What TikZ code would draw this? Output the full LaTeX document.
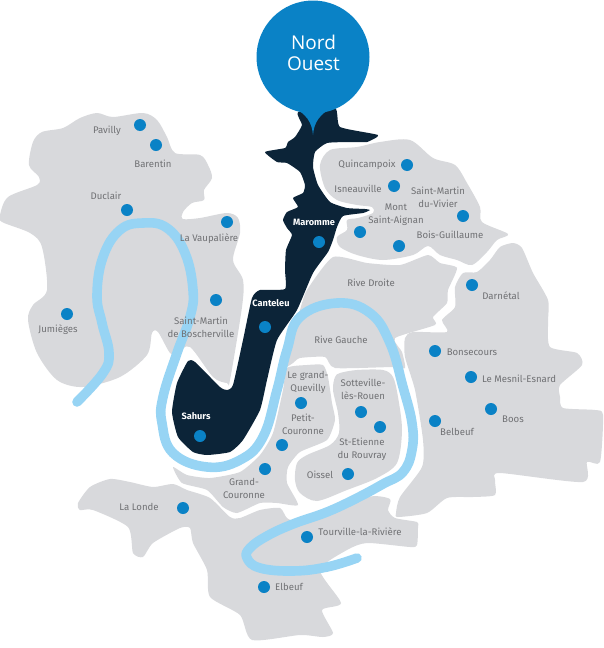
\documentclass[tikz,border=0pt]{standalone}
\usepackage{fontspec}
\setmainfont{Fira Sans}
\newfontfamily\pinfont{Open Sans}
\definecolor{zone}{HTML}{D8D9DC}
\definecolor{night}{HTML}{0C2438}
\definecolor{pinblue}{HTML}{0A82C6}
\definecolor{river}{HTML}{97D4F4}
\definecolor{labelgrey}{HTML}{707174}
\tikzset{
  zoneshape/.style={fill=zone,draw=none},
  lab/.style={text=labelgrey,font=\fontsize{9.6}{13}\selectfont,align=center,inner sep=0pt},
  darklab/.style={text=white,font=\fontsize{9.2}{13}\selectfont\bfseries,inner sep=0pt},
  dot/.style={circle,fill=pinblue,minimum size=12pt,inner sep=0pt,draw=none},
}
\begin{document}
\begin{tikzpicture}[x=1pt,y=-1pt]
\useasboundingbox (0,0) rectangle (604,648);
% West
\fill[zoneshape] plot[smooth cycle,tension=.5] coordinates {(97,113)(113,117)(143,113)(157,120)(167,137)(175,153)(200,155)(208,165)(212,178)(204,190)(204,200)(192,203)(183,212)(183,219)(200,218)(227,213)(238,218)(240,233)(233,260)(243,280)(242,307)(230,380)(227,383)(213,377)(190,347)(177,353)(170,353)(158,332)(152,333)(147,355)(120,377)(83,387)(57,380)(37,353)(28,320)(33,305)(47,290)(42,247)(30,233)(2,222)(0,215)(8,197)(37,185)(39,177)(29,165)(33,142)(42,132)(63,128)(80,118)};
% North-east
\fill[zoneshape] plot[smooth cycle,tension=.5] coordinates {(380,142)(410,140)(433,158)(455,165)(467,183)(480,207)(482,222)(508,234)(497,240)(487,252)(472,265)(457,260)(440,255)(428,246)(413,255)(383,260)(357,255)(340,247)(337,237)(347,230)(347,220)(358,218)(373,213)(372,207)(357,205)(337,200)(325,188)(320,165)(330,150)(357,147)};
% Rive Droite / Rive Gauche
\fill[zoneshape] plot[smooth cycle,tension=.35] coordinates {(333,257)(367,263)(400,265)(428,255)(440,263)(457,268)(448,290)(447,303)(433,317)(435,325)(395,338)(402,352)(405,368)(393,367)(335,368)(325,357)(300,358)(293,363)(285,367)(290,345)(300,310)(307,290)};
% Le Grand-Quevilly etc.
\fill[zoneshape] plot[smooth cycle,tension=.35] coordinates {(287,368)(307,365)(323,365)(328,377)(332,403)(335,420)(327,440)(300,452)(288,467)(287,483)(298,505)(277,503)(260,503)(237,513)(223,507)(207,490)(182,483)(173,467)(187,475)(210,478)(240,472)(260,455)(273,433)(283,390)};
% Sotteville etc.
\fill[zoneshape] plot[smooth cycle,tension=.5] coordinates {(340,373)(357,370)(383,370)(393,377)(398,397)(402,430)(397,463)(377,478)(347,490)(317,501)(300,493)(295,480)(297,463)(307,455)(330,445)(339,433)(338,413)(333,390)(335,377)};
% East
\fill[zoneshape] plot[smooth cycle,tension=.4] coordinates {(513,243)(522,248)(533,273)(548,300)(548,323)(550,347)(577,353)(582,365)(560,385)(560,397)(563,408)(595,410)(603,415)(600,462)(587,462)(583,482)(500,473)(495,480)(495,495)(473,497)(447,498)(427,513)(398,517)(396,513)(400,497)(422,467)(423,440)(415,390)(405,357)(405,338)(413,332)(447,332)(442,320)(455,307)(455,287)(463,273)(477,272)(490,260)(500,247)};
% South
\fill[zoneshape] plot[smooth cycle,tension=.4] coordinates {(78,503)(90,487)(110,479)(130,482)(153,487)(173,484)(187,490)(210,498)(230,517)(240,518)(260,510)(280,508)(287,518)(300,520)(367,497)(390,499)(388,510)(395,518)(417,522)(418,527)(417,545)(410,547)(367,543)(347,550)(320,570)(341,603)(322,610)(333,633)(323,637)(300,635)(252,640)(240,615)(210,597)(207,570)(193,543)(190,528)(180,528)(153,543)(143,557)(133,553)(128,527)(93,510)(80,510)};
% Nord-Ouest territory
\fill[night] plot[smooth cycle,tension=.3] coordinates {(298,112)(302,125)(295,137)(288,142)(285,148)(265,152)(277,162)(287,163)(300,172)(305,185)(303,193)(293,198)(298,207)(287,212)(283,220)(287,228)(292,235)(286,250)(285,270)(285,289)(260,290)(252,298)(243,340)(233,385)(227,390)(220,387)(195,362)(188,361)(177,383)(172,412)(178,437)(193,452)(207,455)(230,452)(243,440)(260,410)(267,380)(277,340)(297,310)(313,273)(328,252)(333,240)(337,227)(343,216)(363,213)(370,210)(365,209)(347,208)(330,202)(318,185)(313,167)(315,152)(327,143)(350,142)(367,142)(378,135)(340,127)(335,108)};
% River
\draw[river,line width=9.6pt,line cap=round,line join=round] plot[smooth,tension=.7] coordinates {(77,402)(103,373)(109,353)(102,323)(97,295)(103,257)(120,230)(143,223)(167,228)(185,253)(193,290)(190,317)(177,353)(163,397)(162,423)(173,453)(207,467)(240,460)(263,437)(277,390)(287,350)(300,317)(337,303)(370,313)(390,343)(403,387)(412,423)(412,450)(403,472)(383,484)(357,498)(327,512)(293,524)(267,536)(250,548)(247,558)(260,568)(293,571)(327,567)(357,558)};
% Pin
\fill[pinblue] (293,107) .. controls (306,114) and (312,122) .. (313,135) .. controls (314,122) and (320,114) .. (333,107) -- cycle;
\node[circle,fill=pinblue,minimum size=113pt,inner sep=0pt] (pin) at (313,57) {};
\node[text=white,font=\pinfont\fontsize{19}{21}\selectfont,align=center,inner sep=0pt] (pintext) at (313.5,53) {Nord\\Ouest};
% Dots
\node[dot] (dpavilly) at (140,125) {};
\node[dot] (dbarentin) at (156,145) {};
\node[dot] (dduclair) at (127,210) {};
\node[dot] (dvaup) at (227,222) {};
\node[dot] (djum) at (67,314) {};
\node[dot] (dbosch) at (216,300) {};
\node[dot] (dcant) at (265,327) {};
\node[dot] (dmar) at (319,242) {};
\node[dot] (dsah) at (200,436) {};
\node[dot] (dquin) at (407,165) {};
\node[dot] (disne) at (394,186) {};
\node[dot] (daig) at (360,232) {};
\node[dot] (dbois) at (399,246) {};
\node[dot] (dviv) at (463,216) {};
\node[dot] (ddar) at (472,285) {};
\node[dot] (dbon) at (435,351) {};
\node[dot] (dmes) at (471,377) {};
\node[dot] (dboos) at (491,409) {};
\node[dot] (dbel) at (435,421) {};
\node[dot] (dque) at (301,403) {};
\node[dot] (dpet) at (282,445) {};
\node[dot] (dgra) at (265,469) {};
\node[dot] (dsot) at (361,412) {};
\node[dot] (dste) at (380,427) {};
\node[dot] (dois) at (348,474) {};
\node[dot] (dlon) at (183,508) {};
\node[dot] (dtou) at (307,537) {};
\node[dot] (delb) at (264,587) {};
% Labels
\node[lab] (lpavilly) at (107,131) {Pavilly};
\node[lab] (lbarentin) at (153,164) {Barentin};
\node[lab] (lduclair) at (106,196) {Duclair};
\node[lab] (lvaup) at (209,239) {La Vaupalière};
\node[lab] (ljum) at (58,330) {Jumièges};
\node[lab] (lbosch) at (201,327) {Saint-Martin\\de Boscherville};
\node[darklab] (lcant) at (271,303) {Canteleu};
\node[darklab] (lmar) at (314,222) {Maromme};
\node[darklab] (lsah) at (196,416) {Sahurs};
\node[lab] (lquin) at (367,165) {Quincampoix};
\node[lab] (lisne) at (358,189) {Isneauville};
\node[lab] (laig) at (396,215) {Mont\\Saint-Aignan};
\node[lab] (lviv) at (438,197) {Saint-Martin\\du-Vivier};
\node[lab] (lbois) at (450,235) {Bois-Guillaume};
\node[lab] (ldroite) at (371,283) {Rive Droite};
\node[lab] (ldar) at (501,296) {Darnétal};
\node[lab] (lgauche) at (341,340) {Rive Gauche};
\node[lab] (lbon) at (472,352) {Bonsecours};
\node[lab] (lmes) at (519,379) {Le Mesnil-Esnard};
\node[lab] (lboos) at (513,419) {Boos};
\node[lab] (lbel) at (457,432) {Belbeuf};
\node[lab] (lque) at (308,382) {Le grand-\\Quevilly};
\node[lab] (lpet) at (303,424) {Petit-\\Couronne};
\node[lab] (lgra) at (244,488) {Grand-\\Couronne};
\node[lab] (lsot) at (363,389) {Sotteville-\\lès-Rouen};
\node[lab] (lste) at (362,449) {St-Etienne\\du Rouvray};
\node[lab] (lois) at (320,475) {Oissel};
\node[lab] (llon) at (139,507) {La Londe};
\node[lab] (ltou) at (360,532) {Tourville-la-Rivière};
\node[lab] (lelb) at (289,587) {Elbeuf};
\end{tikzpicture}
\end{document}
